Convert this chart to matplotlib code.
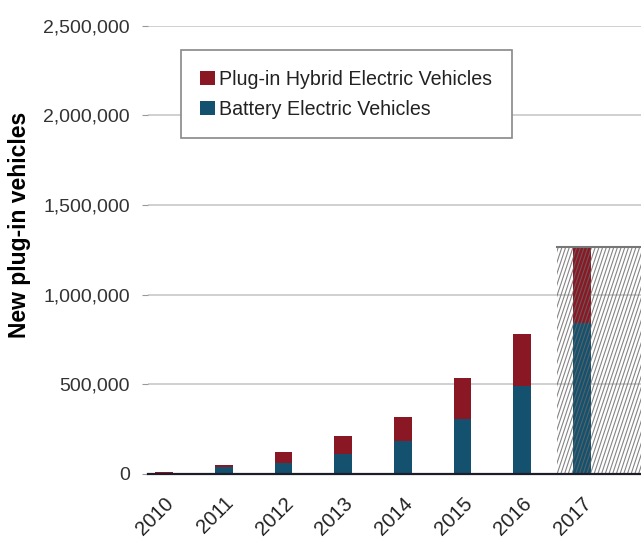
import numpy as np
import matplotlib
matplotlib.use('Agg')
from matplotlib import pyplot as plt
from matplotlib.patches import Patch, Rectangle
from matplotlib.ticker import FuncFormatter

plt.rcParams['font.family'] = ['Liberation Sans', 'DejaVu Sans']

years = ['2010', '2011', '2012', '2013', '2014', '2015', '2016', '2017']
bev = [3000, 37000, 61000, 113000, 184000, 305000, 493000, 843000]
phev = [8000, 13000, 61000, 99000, 134000, 231000, 290000, 422000]

red = '#8a1824'
teal = '#13516e'

fig = plt.figure(figsize=(6.41, 5.38), dpi=100)
ax = fig.add_axes([148 / 641, 1 - 474 / 538, 1 - 148 / 641, (474 - 25.7) / 538])

x = np.arange(len(years))
ax.bar(x, bev, width=0.3, color=teal, zorder=3)
ax.bar(x, phev, width=0.3, bottom=bev, color=red, zorder=3)

ax.set_xlim(-0.27, 7.99)
ax.set_ylim(0, 2500000)
ax.set_yticks(np.arange(0, 2500001, 500000))
ax.yaxis.set_major_formatter(FuncFormatter(lambda v, p: f'{int(v):,}'))
ax.set_xticks(x)
ax.set_xticklabels(years, rotation=45, ha='right', rotation_mode='anchor')

ax.grid(axis='y', color='#c8c8c8', linewidth=1.2, zorder=0)
for s in ['top', 'right', 'left']:
    ax.spines[s].set_visible(False)
ax.spines['bottom'].set_color('#1c1c2a')
ax.spines['bottom'].set_linewidth(1.6)
ax.spines['bottom'].set_zorder(5)

ax.tick_params(axis='y', length=4, color='#999999', pad=9, labelsize=14, labelcolor='#333333')
ax.tick_params(axis='x', length=0, pad=14, labelsize=14.5, labelcolor='#222222')
ax.set_ylabel('New plug-in vehicles', fontsize=16.5, fontweight='bold')
ax.yaxis.set_label_coords(-0.238, 0.556)

# forecast region hatch for 2017
x0 = 6.58
top = bev[-1] + phev[-1]
box = Rectangle((x0, 0), 2.0, top, facecolor='none', edgecolor='none', zorder=4)
ax.add_patch(box)
dx = 1.26
for start in np.arange(x0 - dx - 0.1, 8.1, 0.062):
    ln, = ax.plot([start, start + dx], [0, top], color='#666666', linewidth=0.8, alpha=0.8, zorder=4)
    ln.set_clip_path(box)
ax.plot([x0, 8.5], [top, top], color='#777777', linewidth=1.5, zorder=5, clip_on=False)

handles = [Patch(facecolor=red), Patch(facecolor=teal)]
leg = ax.legend(handles, ['Plug-in Hybrid Electric Vehicles', 'Battery Electric Vehicles'],
                loc='upper left', bbox_to_anchor=(0.066, 0.945), fontsize=14.1,
                handlelength=0.78, handleheight=0.78, handletextpad=0.2,
                labelspacing=0.55, borderpad=1.0, borderaxespad=0, fancybox=False,
                edgecolor='#888888', framealpha=1)
leg.get_frame().set_linewidth(1.2)
for t in leg.get_texts():
    t.set_color('#222222')

fig.savefig('out.png', dpi=100)
